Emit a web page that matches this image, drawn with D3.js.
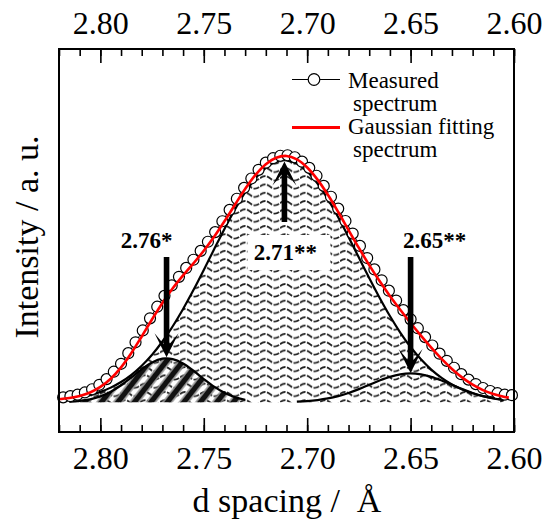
<!DOCTYPE html>
<html><head><meta charset="utf-8">
<script src="https://cdn.jsdelivr.net/npm/d3@7"></script>
<style>html,body{margin:0;padding:0;background:#fff;} svg{display:block;}</style>
</head><body>
<svg id="chart" width="554" height="520"></svg>
<script>
// ---- data ----
const dSpacing = [2.8180,2.8145,2.8110,2.8075,2.8040,2.8005,2.7970,2.7935,2.7900,2.7865,2.7830,2.7795,2.7760,2.7725,2.7690,2.7655,2.7620,2.7585,2.7550,2.7515,2.7480,2.7445,2.7410,2.7375,2.7340,2.7305,2.7270,2.7235,2.7200,2.7165,2.7130,2.7095,2.7060,2.7025,2.6990,2.6955,2.6920,2.6885,2.6850,2.6815,2.6780,2.6745,2.6710,2.6675,2.6640,2.6605,2.6570,2.6535,2.6500,2.6465,2.6430,2.6395,2.6360,2.6325,2.6290,2.6255,2.6220,2.6185,2.6150,2.6115,2.6080,2.6045,2.6010];
const measured = [0.020,0.025,0.031,0.040,0.053,0.071,0.094,0.124,0.156,0.199,0.243,0.291,0.340,0.387,0.431,0.473,0.508,0.544,0.577,0.613,0.650,0.689,0.733,0.779,0.824,0.868,0.906,0.941,0.970,0.988,0.998,1.000,0.992,0.974,0.949,0.917,0.876,0.832,0.784,0.734,0.683,0.633,0.584,0.538,0.494,0.452,0.412,0.373,0.336,0.300,0.264,0.230,0.197,0.168,0.140,0.114,0.092,0.074,0.058,0.046,0.037,0.031,0.029];

const fitD = [2.820,2.815,2.810,2.805,2.800,2.795,2.790,2.785,2.780,2.775,2.770,2.765,2.760,2.755,2.750,2.745,2.740,2.735,2.730,2.725,2.720,2.715,2.710,2.705,2.700,2.695,2.690,2.685,2.680,2.675,2.670,2.665,2.660,2.655,2.650,2.645,2.640,2.635,2.630,2.625,2.620,2.615,2.610,2.605,2.6025];
const gaussFit = [0.0127,0.0176,0.0260,0.0400,0.0623,0.0957,0.1418,0.1999,0.2667,0.3361,0.4023,0.4614,0.5136,0.5624,0.6133,0.6698,0.7326,0.7989,0.8635,0.9203,0.9639,0.9899,0.9971,0.9834,0.9506,0.9015,0.8399,0.7703,0.6973,0.6248,0.5555,0.4907,0.4307,0.3744,0.3210,0.2699,0.2212,0.1757,0.1350,0.1000,0.0715,0.0497,0.0338,0.0230,0.0191];
const peak276 = [null,0.0024,0.0057,0.0123,0.0241,0.0429,0.0692,0.1012,0.1344,0.1617,0.1766,0.1749,0.1571,0.1279,0.0945,0.0633,0.0385,0.0212,0.0106,null,null,null,null,null,null,null,null,null,null,null,null,null,null,null,null,null,null,null,null,null,null,null,null,null,null];
const peak271 = [null,0.0134,0.0201,0.0294,0.0423,0.0596,0.0823,0.1115,0.1482,0.1929,0.2463,0.3081,0.3780,0.4545,0.5359,0.6195,0.7019,0.7798,0.8492,0.9067,0.9490,0.9738,0.9796,0.9661,0.9340,0.8853,0.8227,0.7494,0.6693,0.5859,0.5029,0.4232,0.3492,0.2823,0.2238,0.1740,0.1326,0.0990,0.0725,0.0521,0.0366,0.0253,0.0171,0.0113,null];
const peak265 = [null,null,null,null,null,null,null,null,null,null,null,null,null,null,null,null,null,null,null,null,null,null,null,0.0027,0.0051,0.0093,0.0158,0.0253,0.0380,0.0536,0.0710,0.0883,0.1033,0.1134,0.1170,0.1134,0.1033,0.0883,0.0710,0.0536,0.0380,0.0253,0.0158,0.0093,null];

const xTicks = [2.80,2.75,2.70,2.65,2.60];
const xTickLabels = ["2.80","2.75","2.70","2.65","2.60"];
const peakCenters = [2.768,2.711,2.650];
const peakLabels = ["2.76*","2.71**","2.65**"];
const legendLabels = [["Measured","spectrum"],["Gaussian fitting","spectrum"]];
const xTitle = "d spacing /\u00a0 Å";
const yTitle = "Intensity / a. u.";

// ---- layout ----
const W = 554, H = 520;
const m = {top:49, right:40, bottom:88, left:59};
const FONT = "'Liberation Serif','Times New Roman',serif";
const svg = d3.select("#chart");

const x = d3.scaleLinear().domain([2.82, 2.60]).range([m.left, W - m.right]);
const y = d3.scaleLinear().domain([-0.12, 1.43]).range([H - m.bottom, m.top]);

// patterns
const defs = svg.append("defs");
const wave = defs.append("pattern").attr("id","wavy").attr("patternUnits","userSpaceOnUse")
  .attr("width",20).attr("height",8.3);
wave.append("path").attr("d","M0,4 C3.5,1.2 6.5,1.2 10,4 C13.5,6.8 16.5,6.8 20,4")
  .attr("fill","none").attr("stroke","#222").attr("stroke-width",1.8).attr("stroke-dasharray","6 1.5");
const st = defs.append("pattern").attr("id","stripes").attr("patternUnits","userSpaceOnUse")
  .attr("width",13).attr("height",13).attr("patternTransform","rotate(38)");
st.append("rect").attr("x",0).attr("width",5).attr("height",13).attr("fill","#111");
st.append("rect").attr("x",5).attr("width",1.6).attr("height",13).attr("fill","#888");
st.append("rect").attr("x",11.4).attr("width",1.6).attr("height",13).attr("fill","#888");

const fitData = fitD.map((d,i)=>({d, fit:gaussFit[i], p1:peak276[i], p2:peak271[i], p3:peak265[i]}));

const area = key => d3.area().defined(r=>r[key]!=null).x(r=>x(r.d)).y0(y(0)).y1(r=>y(r[key])).curve(d3.curveCatmullRom);
const line = key => d3.line().defined(r=>r[key]!=null).x(r=>x(r.d)).y(r=>y(r[key])).curve(d3.curveCatmullRom);

// fills
svg.append("path").datum(fitData).attr("d", area("p2")).attr("fill","url(#wavy)");
svg.append("path").datum(fitData).attr("d", area("p1")).attr("fill","url(#stripes)");

// component curves
["p2","p1","p3"].forEach(k=>{
  svg.append("path").datum(fitData).attr("d", line(k)).attr("fill","none")
    .attr("stroke","#000").attr("stroke-width",2.2);
});

// label box for middle peak
const lab2x = x(peakCenters[1]) + 1, lab2y = 260;
svg.append("rect").attr("x", lab2x-38).attr("y", lab2y-25).attr("width", 83).attr("height", 35).attr("fill","#fff");

// measured spectrum
const meas = dSpacing.map((d,i)=>({d, v:measured[i]}));
svg.append("path").datum(meas).attr("d", d3.line().x(r=>x(r.d)).y(r=>y(r.v)))
  .attr("fill","none").attr("stroke","#000").attr("stroke-width",1);
svg.append("g").selectAll("circle").data(meas).join("circle")
  .attr("cx", r=>x(r.d)).attr("cy", r=>y(r.v)).attr("r",5.5)
  .attr("fill","#fff").attr("stroke","#000").attr("stroke-width",1.2);

// gaussian fit
svg.append("path").datum(fitData).attr("d", line("fit")).attr("fill","none")
  .attr("stroke","#ff0000").attr("stroke-width",2.6);

// arrows
function arrowPath(cx, yTail, yTip){
  const s = yTip > yTail ? 1 : -1;
  const L = Math.abs(yTip - yTail);
  const pts = [[0,0],[12,-24],[2.8,-13],[2.8,-L],[-2.8,-L],[-2.8,-13],[-12,-24]];
  return "M" + pts.map(p=>[cx+p[0], yTip + p[1]*s].join(",")).join("L") + "Z";
}
const arrows = [
  {d:peakCenters[0], from:0.588, to:0.183},
  {d:peakCenters[1], from:0.73, to:0.975},
  {d:peakCenters[2], from:0.588, to:0.119}
];
svg.append("g").selectAll("path").data(arrows).join("path")
  .attr("d", a=>arrowPath(x(a.d), y(a.from), y(a.to))).attr("fill","#000");

// peak labels
const labPos = [[x(peakCenters[0])-20, 248],[lab2x, lab2y],[x(peakCenters[2])+24, 248]];
svg.append("g").selectAll("text").data(peakLabels).join("text")
  .attr("x",(t,i)=>labPos[i][0]).attr("y",(t,i)=>labPos[i][1])
  .attr("text-anchor","middle").attr("font-family",FONT).attr("font-weight","bold")
  .attr("font-size",23).text(t=>t);

// frame
svg.append("rect").attr("x",m.left).attr("y",m.top).attr("width",W-m.left-m.right)
  .attr("height",H-m.top-m.bottom).attr("fill","none").attr("stroke","#000").attr("stroke-width",2);

// axes
const minor = x.ticks(22);
function styleAxis(g){ g.select(".domain").remove(); g.selectAll("line").attr("stroke","#000").attr("stroke-width",1.6);
  g.selectAll("text").attr("font-family",FONT).attr("font-size",32).attr("fill","#000"); }
svg.append("g").attr("transform",`translate(0,${H-m.bottom})`)
  .call(d3.axisBottom(x).tickValues(minor).tickSize(-7).tickFormat("")).call(styleAxis);
svg.append("g").attr("transform",`translate(0,${H-m.bottom})`)
  .call(d3.axisBottom(x).tickValues(xTicks).tickSize(-14).tickPadding(14).tickFormat((v,i)=>xTickLabels[i])).call(styleAxis);
svg.append("g").attr("transform",`translate(0,${m.top})`)
  .call(d3.axisTop(x).tickValues(minor).tickSize(-7).tickFormat("")).call(styleAxis);
svg.append("g").attr("transform",`translate(0,${m.top})`)
  .call(d3.axisTop(x).tickValues(xTicks).tickSize(-14).tickPadding(15).tickFormat((v,i)=>xTickLabels[i])).call(styleAxis);

// titles
svg.append("text").attr("x", 287).attr("y", 512).attr("text-anchor","middle")
  .attr("font-family",FONT).attr("font-size",34).text(xTitle);
svg.append("text").attr("transform","translate(38,237) rotate(-90)").attr("text-anchor","middle")
  .attr("font-family",FONT).attr("font-size",34).text(yTitle);

// legend
const lg = svg.append("g");
lg.append("line").attr("x1",292).attr("x2",340).attr("y1",79.5).attr("y2",79.5).attr("stroke","#000").attr("stroke-width",1.2);
lg.append("circle").attr("cx",314).attr("cy",79.5).attr("r",5.8).attr("fill","#fff").attr("stroke","#000").attr("stroke-width",1.2);
lg.append("line").attr("x1",292).attr("x2",340).attr("y1",127.5).attr("y2",127.5).attr("stroke","#ff0000").attr("stroke-width",2.8);
const legY = [[87.5,111],[134,157]];
legendLabels.forEach((pair,i)=>{
  lg.append("text").attr("x",348).attr("y",legY[i][0]).attr("font-family",FONT).attr("font-size",23).text(pair[0]);
  lg.append("text").attr("x",353).attr("y",legY[i][1]).attr("font-family",FONT).attr("font-size",23).text(pair[1]);
});
</script>
</body></html>
